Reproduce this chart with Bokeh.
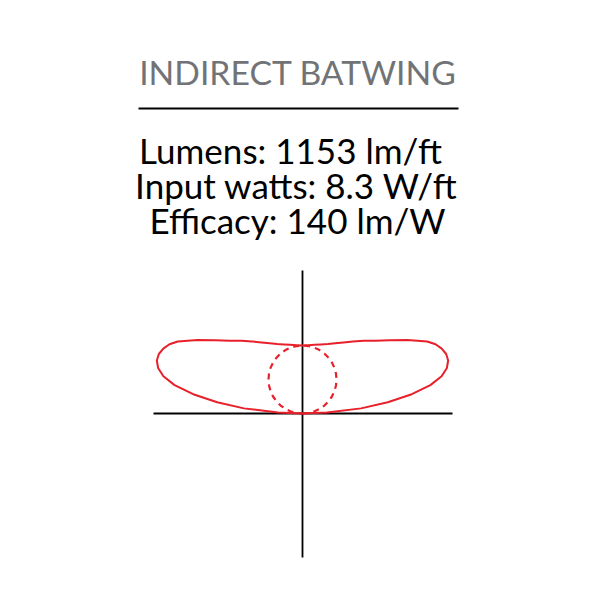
import numpy as np
from bokeh.plotting import figure
from bokeh.models import Range1d
from bokeh.core.properties import value
from bokeh.embed import file_html
from bokeh.resources import INLINE

# ---- data ----
title_text = "INDIRECT BATWING"
info_lines = ["Lumens: 1153 lm/ft", "Input watts: 8.3 W/ft", "Efficacy: 140 lm/W"]

# vertical angle measured from straight up (deg) and relative intensity
angles = [0, 5, 10, 15, 20, 25, 30, 35, 40, 45, 50, 55, 60, 62.5, 65, 67.5,
          70, 72.5, 75, 77.5, 80, 82.5, 85, 87.5, 90]
batwing = [68, 68.6, 69.8, 71.5, 74, 77.5, 82, 88, 95, 103, 114, 128, 144, 150,
           153.6, 155.5, 155, 151.4, 144, 131, 111, 86, 58.8, 24.5, 0]

ref_angles = [0, 5, 10, 15, 20, 25, 30, 35, 40, 45, 50, 55, 60, 65, 70, 75, 80, 85, 90]
reference = [68, 67.7, 67, 65.7, 63.9, 61.6, 58.9, 55.7, 52.1, 48.1, 43.7, 39,
             34, 28.7, 23.3, 17.6, 11.8, 5.9, 0]

axis_max = 150

RED = "#e8202a"


def polar_xy(ang, r):
    a = np.radians(np.asarray(ang, dtype=float))
    r = np.asarray(r, dtype=float)
    xr, yr = r * np.sin(a), r * np.cos(a)
    x = np.concatenate([xr[::-1], -xr[1:]])
    y = np.concatenate([yr[::-1], yr[1:]])
    return x, y


p = figure(width=584, height=584, output_backend="svg", toolbar_location=None,
           x_range=Range1d(-302, 282), y_range=Range1d(-171, 413),
           min_border=0)
p.axis.visible = False
p.grid.visible = False
p.outline_line_color = None
p.background_fill_color = "white"
p.border_fill_color = "white"

# polar axes
p.segment(x0=[-axis_max + 1, 0], y0=[0, -axis_max + 6], x1=[axis_max, 0], y1=[0, axis_max - 7],
          line_color="black", line_width=1.8)

bx, by = polar_xy(angles, batwing)
p.line(bx, by, line_color=RED, line_width=2, line_join="round")

rx, ry = polar_xy(ref_angles, reference)
p.line(rx, ry, line_color=RED, line_width=2.2, line_dash="6 5")

# header texts
p.text(x=[-4.5], y=[342], text=[title_text], text_font=value("Lato"),
       text_font_size="33.7px", text_color="#727376", text_align="center",
       text_baseline="alphabetic")
p.segment(x0=[-164], y0=[305], x1=[156], y1=[305], line_color="black", line_width=2)
p.text(x=[-12, -6, -5], y=[264, 229, 194], text=info_lines, text_font=value("Lato"),
       text_font_size="35px", text_color="black", text_align="center",
       text_baseline="alphabetic")

open("out.html", "w").write(file_html(p, INLINE))
